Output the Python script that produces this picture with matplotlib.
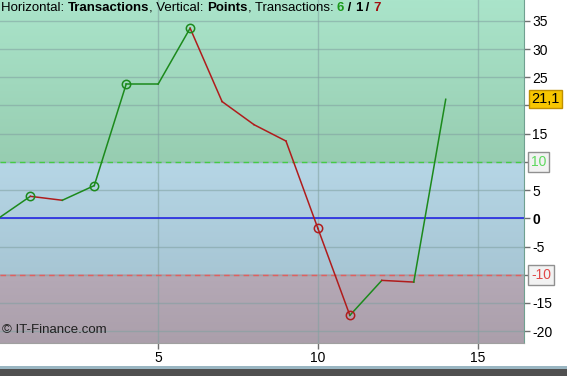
import numpy as np
import matplotlib.pyplot as plt
from matplotlib.colors import to_rgb
from matplotlib.patches import Rectangle

plt.rcParams['font.family'] = ['Liberation Sans', 'DejaVu Sans']

# transaction index and cumulative points
trades = [0, 1, 2, 3, 4, 5, 6, 7, 8, 9, 10, 11, 12, 13, 14]
points = [0, 3.9, 3.2, 5.8, 23.8, 23.8, 33.7, 20.7, 16.6, 13.7, -1.8, -17.2, -11.0, -11.3, 21.1]
marked = [1, 3, 4, 6, 10, 11]
last_label = '21,1'
upper_level = 10
lower_level = -10
xticks = [5, 10, 15]
yticks = [-20, -15, -10, -5, 0, 5, 10, 15, 20, 25, 30, 35]

green = '#1c8a1c'
red = '#b01c1c'

fig = plt.figure(figsize=(5.67, 3.76), dpi=100)
ax = fig.add_axes([0, 33 / 376, 524 / 567, 343 / 376])
xmin, xmax = 0.05, 16.45
ymin, ymax = -22.1, 38.7
ax.set_xlim(xmin, xmax)
ax.set_ylim(ymin, ymax)

# background zones with slight vertical gradients
def zone(y0, y1, c_top, c_bot):
    top = np.array(to_rgb(c_top))
    bot = np.array(to_rgb(c_bot))
    t = np.linspace(0, 1, 64)[:, None]
    img = (top * (1 - t) + bot * t)[:, None, :]
    ax.imshow(img, extent=[xmin, xmax, y0, y1], aspect='auto', zorder=0,
              origin='upper', interpolation='bilinear')

zone(upper_level, ymax, '#aae4ca', '#97cdb1')
zone(lower_level, upper_level, '#b6d6e6', '#a7c6d4')
zone(ymin, lower_level, '#b5a9b6', '#ab9fab')

for yv in yticks:
    ax.axhline(yv, color='#80a0a0', lw=1, alpha=0.55, zorder=1)
for xv in xticks:
    ax.axvline(xv, color='#80a0a0', lw=1, alpha=0.55, zorder=1)

ax.axhline(upper_level, color='#44cc44', lw=1, ls=(0, (4, 3)), zorder=2)
ax.axhline(lower_level, color='#e06060', lw=1, ls=(0, (4, 3)), zorder=2)
ax.axhline(0, color='#1a1ae6', lw=1.1, zorder=2)

# green for rising/flat segments, red for falling ones
for i in range(len(trades) - 1):
    c = red if points[i + 1] < points[i] else green
    ax.plot(trades[i:i + 2], points[i:i + 2], color=c, lw=1.1, zorder=3)

for i in marked:
    c = red if points[i] < points[i - 1] else green
    ax.plot(trades[i], points[i], 'o', ms=6, mfc='none', mec=c, mew=1.1, zorder=4)

ax.yaxis.tick_right()
ax.set_xticks(xticks)
ax.set_yticks(yticks)
ax.set_yticklabels([str(v) for v in yticks])
ax.tick_params(axis='both', colors='#707070', labelcolor='black', labelsize=10,
               length=4, width=1, direction='out', pad=2)
for lab in ax.get_yticklabels():
    txt = lab.get_text()
    if txt == '0':
        lab.set_fontweight('bold')
    if txt in ('10', '-10', '20'):
        lab.set_alpha(0)
for s in ax.spines.values():
    s.set_visible(False)
ax.spines['right'].set_visible(True)
ax.spines['right'].set_color('#70a090')
ax.spines['bottom'].set_visible(True)
ax.spines['bottom'].set_color('#a0a0a0')

# boxed level labels
ax.text(xmax + 0.22, upper_level, str(upper_level), color='#5ed85e', fontsize=10,
        va='center', ha='left', clip_on=False,
        bbox=dict(boxstyle='square,pad=0.2', fc='#f2f2f2', ec='#909090', lw=1))
ax.text(xmax + 0.22, lower_level, str(lower_level), color='#e04848', fontsize=10,
        va='center', ha='left', clip_on=False,
        bbox=dict(boxstyle='square,pad=0.2', fc='#f2f2f2', ec='#909090', lw=1))
ax.text(xmax + 0.22, points[-1], last_label, color='black', fontsize=10.5,
        va='center', ha='left', clip_on=False,
        bbox=dict(boxstyle='square,pad=0.15', fc='#f7c600', ec='#c09000', lw=1))

# header, pieced together with mixed weights and colours
hdr = [('Horizontal: ', 'normal', 'black'), ('Transactions', 'bold', 'black'),
       (', Vertical: ', 'normal', 'black'), ('Points', 'bold', 'black'),
       (', Transactions: ', 'normal', 'black'), ('6', 'bold', '#1a9a1a'),
       (' / ', 'bold', 'black'), ('1', 'bold', 'black'), (' / ', 'bold', 'black'),
       ('7', 'bold', '#a01010')]
renderer = fig.canvas.get_renderer()
x0 = 1
for s, w, c in hdr:
    t = fig.text(x0 / 567, 1 - 2 / 376, s, fontsize=9.5, fontweight=w, color=c,
                 va='top', ha='left')
    x0 += t.get_window_extent(renderer).width

ax.text(0.003, 0.02, '\u00a9 IT-Finance.com', transform=ax.transAxes, fontsize=9.5,
        color='#202020', va='bottom', ha='left')

# screen strip at the bottom
fig.patches.append(Rectangle((0, 0), 1, 10 / 376, transform=fig.transFigure,
                             fc='#505050', ec='none', zorder=-1))
fig.patches.append(Rectangle((0, 7 / 376), 1, 3.5 / 376, transform=fig.transFigure,
                             fc='#9ab6c2', ec='none', zorder=-1))

fig.savefig('out.png', dpi=100)
